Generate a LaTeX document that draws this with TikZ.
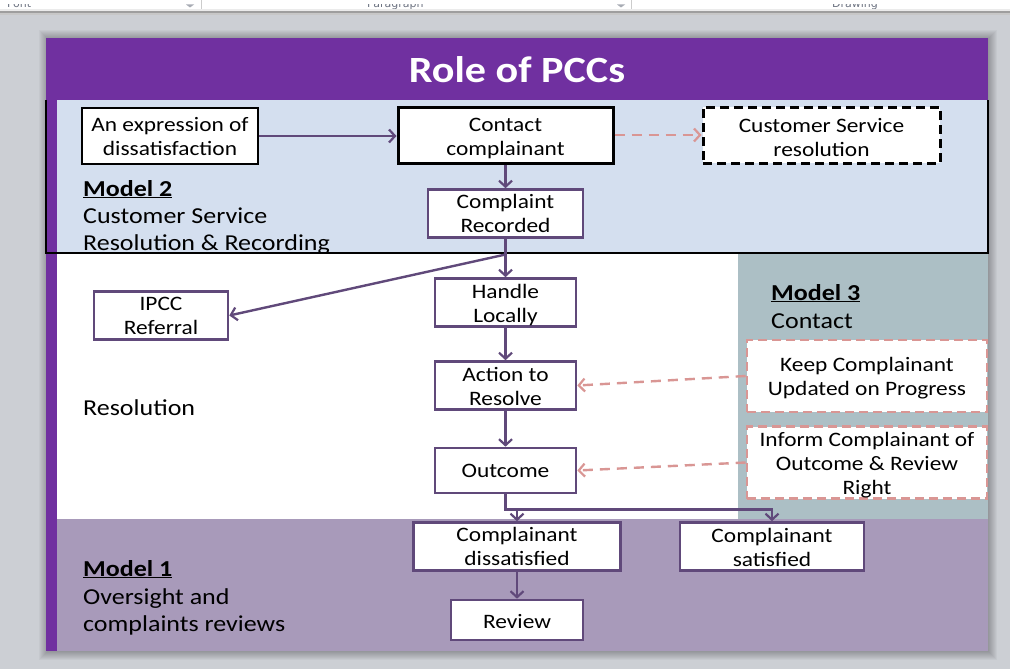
\documentclass[tikz,border=0pt]{standalone}
\usepackage{fontspec}
\setmainfont{Carlito}[FakeStretch=1.14]
\newfontfamily\uifont{DejaVu Sans}
\usetikzlibrary{arrows.meta,calc}

\definecolor{titlepurple}{RGB}{112,48,160}
\definecolor{bandblue}{RGB}{212,223,239}
\definecolor{bandteal}{RGB}{172,191,197}
\definecolor{bandmauve}{RGB}{168,154,186}
\definecolor{pline}{RGB}{96,73,122}
\definecolor{pinkline}{RGB}{217,150,148}
\definecolor{desk}{RGB}{204,207,212}
\definecolor{uigray}{RGB}{110,116,130}

% centred stack of lines, lowered by the optional amount (pt) without
% changing the size the node sees
\newcommand\boxlines[2][0]{\raisebox{-#1pt}[\height][\depth]{\begin{tabular}{@{}c@{}}#2\end{tabular}}}

\tikzset{
  boxfont/.style={font=\fontsize{20.5}{24}\selectfont},
  basebox/.style={fill=white, inner sep=0pt, boxfont},
  plainbox/.style={basebox, draw=black, line width=1.6pt},
  keybox/.style={basebox, draw=black, line width=3pt},
  dashbox/.style={basebox, draw=black, line width=3pt, dash pattern=on 9pt off 5pt},
  stepbox/.style={basebox, draw=pline, line width=2.6pt},
  notebox/.style={basebox, draw=pinkline, line width=2.6pt, dash pattern=on 9pt off 5pt},
  conn/.style={draw=pline, line width=2.4pt,
    -{Straight Barb[length=6pt, width=13pt, line width=2.2pt]}},
  pinkconn/.style={draw=pinkline, line width=2.4pt, dash pattern=on 10pt off 7pt,
    -{Straight Barb[length=6pt, width=13pt, line width=2.2pt]}},
  lbl/.style={anchor=base west, inner sep=0pt, font=\fontsize{22.8}{27.5}\selectfont},
  uitext/.style={anchor=base west, inner sep=0pt, text=uigray, font=\uifont\fontsize{11}{12}\selectfont},
}

\begin{document}
\begin{tikzpicture}[x=1pt, y=-1pt]
\useasboundingbox (0,0) rectangle (1010,669);

% application window behind the slide
\fill[desk] (0,0) rectangle (1010,669);
\fill[white] (0,0) rectangle (1010,11);
\begin{scope}
  \clip (0,4.5) rectangle (1010,11);
  \node[uitext] (tbfont) at (7,7.5) {Font};
  \node[uitext] (tbpara) at (367,7.5) {Paragraph};
  \node[uitext] (tbdraw) at (832,7.5) {Drawing};
  \fill[uigray!60] (186,4.5) -- (194,4.5) -- (190,7.5) -- cycle;
  \fill[uigray!60] (617,4.5) -- (625,4.5) -- (621,7.5) -- cycle;
\end{scope}
\draw[black!20, line width=1pt] (201,0) -- (201,11) (631,0) -- (631,11);
\fill[black!8] (0,9) rectangle (1010,11);
\fill[black!38] (0,11) rectangle (1010,13);
\fill[black!22] (0,13) rectangle (1010,15);

% soft drop shadow of the slide
\foreach \i in {1,...,9}
  \fill[black, opacity=0.03] (46-\i+2,38-\i+1) rectangle (988+\i,651+\i);

% slide bands
\fill[titlepurple] (46,38) rectangle (988,100);
\fill[bandblue] (46,100) rectangle (988,253);
\fill[white] (46,253) rectangle (738,519);
\fill[bandteal] (738,253) rectangle (988,519);
\fill[bandmauve] (46,519) rectangle (988,651);
\fill[titlepurple] (46,100) rectangle (57,651);
\draw[black, line width=2pt] (46,100) -- (46,253) -- (988,253) -- (988,100);

% title
\node[text=white, font=\bfseries\fontsize{37}{40}\selectfont] (title) at (517,70) {Role of PCCs};

% band labels
\node[lbl] (m2) at (83,196) {\textbf{\underline{Model 2}}};
\node[lbl] (m2a) at (83,223.3) {Customer Service};
\node[lbl] (m2b) at (83,250.3) {Resolution \& Recording};
\node[lbl] (res) at (83,415) {Resolution};
\node[lbl] (m3) at (771,300) {\textbf{\underline{Model 3}}};
\node[lbl] (m3a) at (771,328) {Contact};
\node[lbl] (m1) at (83,576) {\textbf{\underline{Model 1}}};
\node[lbl] (m1a) at (83,604) {Oversight and};
\node[lbl] (m1b) at (83,631) {complaints reviews};

% process boxes
\node[plainbox, minimum width=176, minimum height=56] (expr) at (170,136) {\boxlines[2.5]{An expression of\\dissatisfaction}};
\node[keybox, minimum width=215, minimum height=56] (contact) at (505.5,135) {\boxlines[4]{Contact\\complainant}};
\node[dashbox, minimum width=237, minimum height=56] (csr) at (821.5,135) {\boxlines[4.5]{Customer Service\\resolution}};
\node[stepbox, minimum width=155, minimum height=45] (recorded) at (505.5,213.5) {\boxlines[2]{Complaint\\Recorded}};
\node[stepbox, minimum width=141, minimum height=45] (handle) at (505.5,302.5) {\boxlines[3.5]{Handle\\Locally}};
\node[stepbox, minimum width=141, minimum height=45] (action) at (505.5,385.5) {\boxlines[3.5]{Action to\\Resolve}};
\node[stepbox, minimum width=141, minimum height=45] (outcome) at (505.5,470.5) {\boxlines[2]{Outcome}};
\node[stepbox, minimum width=134, minimum height=45] (ipcc) at (161,315.5) {\boxlines[2]{IPCC\\Referral}};
\node[notebox, minimum width=240, minimum height=72] (keep) at (867,376) {\boxlines[2.5]{Keep Complainant\\Updated on Progress}};
\node[notebox, minimum width=240, minimum height=69] (inform) at (867,462.5) {\boxlines[3]{Inform Complainant of\\Outcome \& Review\\Right}};
\node[stepbox, minimum width=207, minimum height=47] (dissat) at (517,546.5) {\boxlines[2.5]{Complainant\\dissatisfied}};
\node[stepbox, minimum width=184, minimum height=47] (sat) at (772,546.5) {\boxlines[3]{Complainant\\satisfied}};
\node[stepbox, minimum width=132, minimum height=40] (review) at (517,620) {\boxlines[4]{Review}};

% branch points
\coordinate (fork) at (505.5,254.5);
\coordinate (split) at (505.5,509.5);

% connectors
\draw[conn] (expr.east) -- (expr.east -| contact.west);
\draw[conn] (contact.south) -- (recorded.north);
\draw[conn] (recorded.south) -- (handle.north);
\draw[conn] (fork) -- (ipcc.east);
\draw[conn] (handle.south) -- (action.north);
\draw[conn] (action.south) -- (outcome.north);
\draw[conn] (outcome.south) -- (split) -| (sat.north);
\draw[conn] (dissat.north |- split) -- (dissat.north);
\draw[conn] (dissat.south) -- (review.north);

% dashed contact links
\draw[pinkconn] (contact.east) -- (csr.west);
\draw[pinkconn] (keep.west) -- (action.east);
\draw[pinkconn] (inform.west) -- (outcome.east);
\end{tikzpicture}
\end{document}
